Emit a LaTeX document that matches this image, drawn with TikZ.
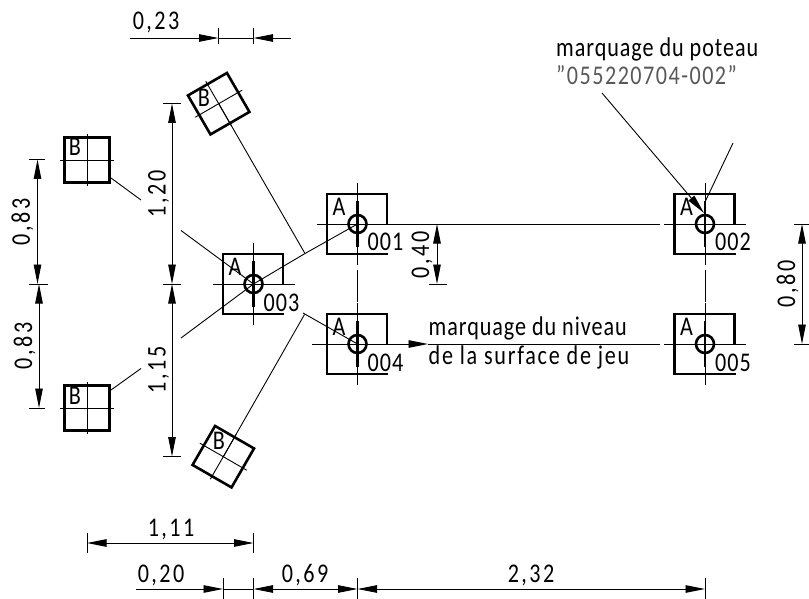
\documentclass[tikz,border=0pt]{standalone}
\usepackage{fontspec}
\setmainfont[FakeStretch=0.82,LetterSpace=3.5]{Carlito}
\usetikzlibrary{arrows.meta}

\begin{document}
\begin{tikzpicture}[%
	x=1pt,y=-1pt,
	>={Triangle[length=19.5pt,width=7.5pt]},
	fin/.style={draw,line width=0.9pt},
	cote/.style={fin,->},
	epais/.style={draw,line width=2.6pt},
	carre/.style={draw,line width=2.6pt,minimum size=45pt,inner sep=0pt},
	txt/.style={inner sep=0pt,anchor=base,font=\fontsize{27}{27}\selectfont},
	num/.style={txt,font=\fontsize{27}{27}\selectfont\addfontfeature{LetterSpace=9}},
	vert/.style={num,rotate=90},
	note/.style={txt,anchor=base west}
]
\useasboundingbox (0,0) rectangle (809,599);

% poteaux
\foreach \n/\x/\y in {001/357.5/224,002/705/224,003/253.5/284,004/357.5/344,005/705/344}{
	\coordinate (p\n) at (\x,\y);
	\draw[epais] (p\n) ++(29.5,0) -- ++(0,-30) -- ++(-60,0) -- ++(0,60) -- ++(61,0);
	\draw[epais] (p\n) circle (9);
	\draw[epais] (p\n) ++(0,-23) -- ++(0,46);
	\draw[fin] (p\n) ++(0,-41) -- ++(0,82);
	\draw[fin] (p\n) ++(-41,0) -- ++(82,0);
	\node[txt] (a\n) at (\x-18.5,\y-8.5) {A};
	\node[txt] (n\n) at (\x+28,\y+27) {\n};
}

% carres
\foreach \n/\x/\y/\a/\bx/\by in {1/87/160/0/75/156,2/87/408/0/75/404,3/218.7/103.7/30/204/107,4/223.3/456.7/-30/219/449}{
	\node[carre,rotate=\a] (b\n) at (\x,\y) {};
	\begin{scope}[shift={(b\n.center)},rotate=\a]
		\draw[fin] (-27,0) -- (27,0);
		\draw[fin] (0,-26) -- (0,26);
	\end{scope}
	\node[txt] (l\n) at (\bx,\by) {B};
}

% axes
\coordinate (h1) at (660,224);
\coordinate (h2) at (428,344);
\coordinate (h3) at (660,344);
\coordinate (v1a) at (357.5,270);
\coordinate (v1b) at (357.5,302);
\coordinate (v2a) at (705,270);
\coordinate (v2b) at (705,302);
\coordinate (g1) at (312,344);
\draw[fin] (p001) -- (h1);
\draw[fin] (p004) -- (g1);
\draw[fin] (h2) -- (h3);
\draw[fin] (v1a) -- (v1b);
\draw[fin] (v2a) -- (v2b);

% lignes de construction
\coordinate (j1) at (305,253.5);
\coordinate (j2) at (304.5,314.5);
\coordinate (j3) at (303,313);
\coordinate (r1) at (181,230.5);
\coordinate (r2) at (141,200);
\coordinate (r3) at (111,178);
\coordinate (r4) at (181,338);
\coordinate (r5) at (141,368.5);
\coordinate (r6) at (111,390);
\draw[fin] (p001) -- (j1) -- (p003);
\draw[fin] (p003) -- (r1);
\draw[fin] (p003) -- (r4);
\draw[fin] (r2) -- (r3);
\draw[fin] (r5) -- (r6);
\draw[fin] (b3.center) -- (j1);
\draw[fin] (b4.center) -- (j2);
\draw[fin] (j3) -- (p004);
\draw[cote] (p004) -- (h2);

% 0,23
\coordinate (c1a) at (218.5,38);
\coordinate (c1b) at (253.5,38);
\coordinate (c1c) at (130,38);
\coordinate (c1d) at (291,38);
\draw[cote] (c1c) -- (c1a);
\draw[cote] (c1d) -- (c1b);
\draw[fin] (c1a) -- (c1b);
\draw[fin] (c1a) ++(0,-10) -- ++(0,16);
\draw[fin] (c1b) ++(0,-10) -- ++(0,16);
\node[num] (t023) at (156,30) {0,23};

% 0,83
\coordinate (c2a) at (37.5,159.5);
\coordinate (c2b) at (37.5,284);
\coordinate (c2c) at (39,284);
\coordinate (c2d) at (39,408);
\draw[<->,fin] (c2a) -- (c2b);
\draw[<->,fin] (c2c) -- (c2d);
\draw[fin] (c2a) ++(-9,0) -- ++(16,0);
\draw[fin] (c2b) ++(-9,0) -- ++(19,0);
\draw[fin] (c2d) ++(-10,0) -- ++(16,0);
\node[vert] (t083a) at (30,222) {0,83};
\node[vert] (t083b) at (32,346) {0,83};

% 1,20 et 1,15
\coordinate (c3a) at (172,103.5);
\coordinate (c3b) at (172,284);
\coordinate (c3c) at (172,456.5);
\draw[<->,fin] (c3a) -- (c3b);
\draw[<->,fin] (c3b) -- (c3c);
\draw[fin] (c3a) ++(-9,0) -- ++(18,0);
\draw[fin] (c3b) ++(-9,0) -- ++(18,0);
\draw[fin] (c3c) ++(-9,0) -- ++(18,0);
\node[vert] (t120) at (165.5,194) {1,20};
\node[vert] (t115) at (165.5,370) {1,15};

% 1,11
\coordinate (c4a) at (87,543);
\coordinate (c4b) at (253.5,543);
\draw[<->,fin] (c4a) -- (c4b);
\draw[fin] (c4a) ++(0,-10) -- ++(0,20);
\draw[fin] (c4b) ++(0,-10) -- ++(0,20);
\node[num] (t111) at (171,536) {1,11};

% ligne du bas
\coordinate (c5z) at (136,589);
\coordinate (c5a) at (223,589);
\coordinate (c5b) at (253.5,589);
\coordinate (c5c) at (357.5,589);
\coordinate (c5d) at (705,589);
\draw[cote] (c5z) -- (c5a);
\draw[fin] (c5a) -- (c5b);
\draw[<->,fin] (c5b) -- (c5c);
\draw[<->,fin] (c5c) -- (c5d);
\foreach \c in {c5a,c5b,c5c,c5d}{
	\draw[fin] (\c) ++(0,-11) -- ++(0,21);
}
\node[num] (t020) at (161,582) {0,20};
\node[num] (t069) at (305,582) {0,69};
\node[num] (t232) at (531,582) {2,32};

% 0,40 et 0,80
\coordinate (c6a) at (437,224);
\coordinate (c6b) at (437,284);
\coordinate (c7a) at (802,224);
\coordinate (c7b) at (802,344);
\draw[<->,fin] (c6a) -- (c6b);
\draw[<->,fin] (c7a) -- (c7b);
\draw[fin] (c6b) ++(-8,0) -- ++(18,0);
\draw[fin] (c7a) ++(-8,0) -- ++(15,0);
\draw[fin] (c7b) ++(-8,0) -- ++(15,0);
\node[vert] (t040) at (429,255) {0,40};
\node[vert] (t080) at (795,284) {0,80};

% marquages
\node[note] (m1) at (556,57) {marquage du poteau};
\node[note,text=black!65] (m2) at (556,85) {\addfontfeature{LetterSpace=5.5}"055220704-002"};
\node[note] (m3) at (428.5,335) {marquage du niveau};
\node[note] (m4) at (428.5,364) {\addfontfeature{LetterSpace=6.5}de la surface de jeu};
\coordinate (f1) at (602,93);
\coordinate (f2) at (704,213);
\coordinate (f3) at (733,143);
\coordinate (f4) at (705,202);
\draw[cote] (f1) -- (f2);
\draw[fin] (f3) -- (f4);

\end{tikzpicture}
\end{document}
